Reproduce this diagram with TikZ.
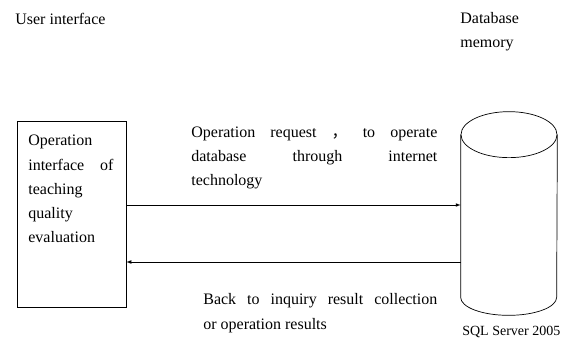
\documentclass[tikz,border=0pt]{standalone}
\usepackage{fontspec}
\setmainfont{Liberation Serif}
\newfontfamily\cjk{Noto Sans CJK SC}
\newcommand{\jline}[2]{\makebox[#1][s]{#2}}
\tikzset{
  lbl/.style={anchor=base west, inner sep=0pt, align=left, font=\fontsize{16}{24.3}\selectfont},
}
\begin{document}
\begin{tikzpicture}[>=latex, x=1pt, y=-1pt, line width=0.7pt]
\useasboundingbox (0,0) rectangle (587,342);

\node[lbl] (ui) at (15,25) {User interface};
\node[lbl] (dbm) at (460,48) {Database\\memory};

\node[draw, minimum width=109pt, minimum height=186pt, inner sep=0pt] (box) at (71.5,214) {};
\node[lbl] (boxtext) at (28,243) {Operation\\\jline{85pt}{interface of}\\teaching\\quality\\evaluation};

\node[minimum width=96pt, minimum height=162pt, inner sep=0pt] (db) at (509,216) {};
\draw (db.north west) -- (db.south west) arc[start angle=180, end angle=0, x radius=48, y radius=18] -- (db.north east);
\draw (db.north) ellipse[x radius=48, y radius=23];
\node[lbl, font=\fontsize{14}{17}\selectfont] (sql) at (462,335) {SQL Server 2005};

\node[lbl] (req) at (191,186) {\jline{246pt}{Operation request {\cjk ，} to operate}\\\jline{246pt}{database through internet}\\technology};
\node[lbl] (back) at (203,329) {\jline{234pt}{Back to inquiry result collection}\\or operation results};

\draw[->] (box.east |- 0,205) -- (db.west |- 0,205);
\draw[->] (db.west |- 0,262) -- (box.east |- 0,262);

\end{tikzpicture}
\end{document}
